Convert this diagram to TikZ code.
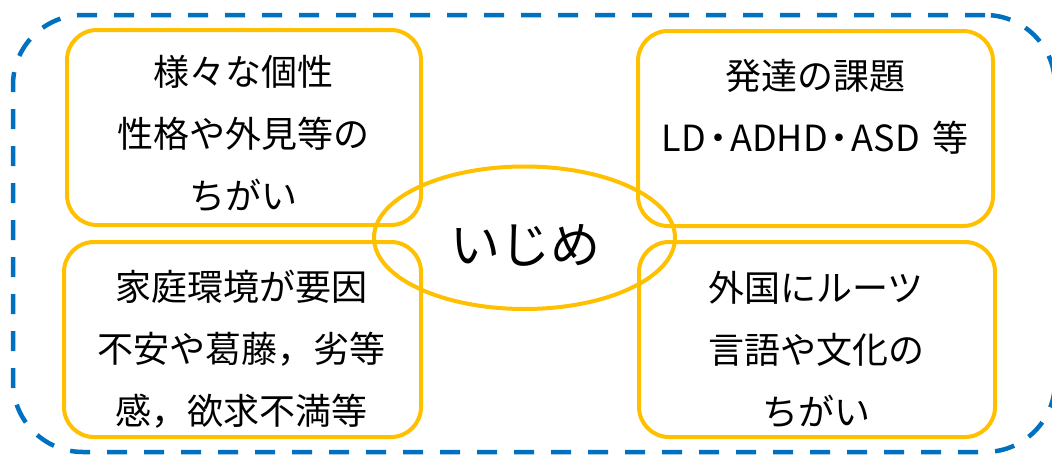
\documentclass[tikz,border=0pt]{standalone}
\usepackage{fontspec}
\newfontfamily\jp{Noto Sans CJK JP}
\usetikzlibrary{shapes.geometric}
\definecolor{frameblue}{HTML}{0070C0}
\definecolor{gold}{HTML}{FFC000}
\newcommand{\ndot}{\makebox[24pt][c]{・}}
\begin{document}
\begin{tikzpicture}[x=1pt,y=-1pt,
  frame/.style={draw=frameblue, line width=4.5pt, dash pattern=on 20pt off 17pt,
    rounded corners=70pt, rectangle, inner sep=0pt},
  box/.style={draw=gold, line width=4pt, rounded corners=30pt, rectangle, inner sep=0pt},
  txt/.style={align=center, inner sep=0pt, font=\jp\fontsize{36}{62}\selectfont},
  center/.style={draw=gold, line width=4pt, ellipse, inner sep=0pt,
    minimum width=301pt, minimum height=142.5pt}]
\useasboundingbox (0,0) rectangle (1052,455);
\clip (0,0) rectangle (1052,455);
\node[frame, minimum width=1042pt, minimum height=437pt] (frm) at (534,233.5) {};
\node[box, minimum width=354pt, minimum height=195pt] (tl) at (244,127.5) {};
\node[box, minimum width=357pt, minimum height=195pt] (bl) at (242.5,339.5) {};
\node[box, minimum width=355pt, minimum height=195pt] (tr) at (815.5,128.5) {};
\node[box, minimum width=356pt, minimum height=195pt] (br) at (817,339.5) {};
\node[center] (ijime) at (524.5,237.75) {};
\node[txt] (tltext) at (243,134) {様々な個性\\性格や外見等の\\ちがい};
\node[txt] (trtext) at (815,106.5) {発達の課題\\LD\ndot ADHD\ndot ASD\hspace{4pt} 等};
\node[txt] (bltext) at (241,349) {家庭環境が要因\\不安や葛藤，劣等\\感，欲求不満等};
\node[txt] (brtext) at (816,350) {外国にルーツ\\言語や文化の\\ちがい};
\node[inner sep=0pt, font=\jp\fontsize{50}{60}\selectfont] (ijimetext) at (525,245) {いじめ};
\end{tikzpicture}
\end{document}
